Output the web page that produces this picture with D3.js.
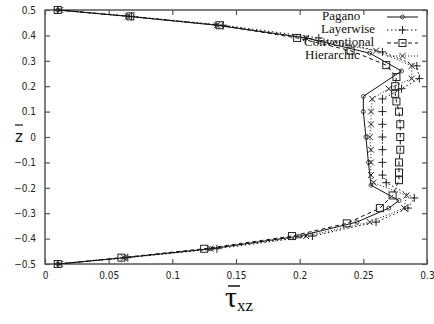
<!DOCTYPE html>
<html>
<head>
<meta charset="utf-8">
<script src="https://cdn.jsdelivr.net/npm/d3@7"></script>
<style>
  body { margin: 0; background: #fff; }
  svg { display: block; }
</style>
</head>
<body>
<svg id="chart" width="434" height="324"></svg>
<script>
// values, z through the thickness
var paganoZ   = [-0.5, -0.475, -0.44, -0.39, -0.335, -0.28, -0.25, -0.19, -0.1, 0, 0.1, 0.16, 0.26, 0.33, 0.39, 0.44, 0.475, 0.5];
var paganoTau = [0.01, 0.063, 0.13, 0.2, 0.245, 0.27, 0.278, 0.256, 0.254, 0.252, 0.25, 0.25, 0.28, 0.255, 0.205, 0.135, 0.065, 0.01];

var layerZ   = [-0.5, -0.475, -0.44, -0.39, -0.335, -0.28, -0.24, -0.18, -0.15, -0.1, -0.05, 0, 0.05, 0.1, 0.15, 0.19, 0.23, 0.28, 0.335, 0.39, 0.44, 0.475, 0.5];
var layerTau = [0.01, 0.065, 0.135, 0.21, 0.26, 0.285, 0.29, 0.268, 0.265, 0.265, 0.265, 0.265, 0.265, 0.265, 0.265, 0.28, 0.294, 0.292, 0.265, 0.215, 0.14, 0.068, 0.01];

var convZ   = [-0.5, -0.475, -0.44, -0.39, -0.34, -0.28, -0.23, -0.17, -0.14, -0.1, -0.05, 0, 0.05, 0.1, 0.14, 0.17, 0.2, 0.236, 0.283, 0.34, 0.39, 0.44, 0.475, 0.5];
var convTau = [0.01, 0.06, 0.125, 0.194, 0.237, 0.263, 0.273, 0.278, 0.278, 0.278, 0.279, 0.279, 0.279, 0.278, 0.276, 0.275, 0.275, 0.276, 0.268, 0.24, 0.198, 0.137, 0.067, 0.01];

var hierZ   = [-0.5, -0.475, -0.44, -0.39, -0.335, -0.28, -0.23, -0.18, -0.15, -0.1, -0.05, 0, 0.05, 0.1, 0.15, 0.19, 0.23, 0.28, 0.34, 0.39, 0.44, 0.475, 0.5];
var hierTau = [0.012, 0.062, 0.13, 0.205, 0.255, 0.282, 0.284, 0.258, 0.256, 0.256, 0.256, 0.255, 0.256, 0.256, 0.257, 0.27, 0.288, 0.288, 0.26, 0.205, 0.135, 0.065, 0.012];

var xTicks = [0, 0.05, 0.1, 0.15, 0.2, 0.25, 0.3];
var yTicks = [-0.5, -0.4, -0.3, -0.2, -0.1, 0, 0.1, 0.2, 0.3, 0.4, 0.5];

var seriesNames = ["Pagano", "Layerwise", "Conventional", "Hierarchic"];
var seriesDash = [null, "1.5,2.5", "4,3", "1,2"];
var seriesMark = ["circle", "plus", "square", "cross"];

var series = [
  {z: paganoZ, tau: paganoTau},
  {z: layerZ, tau: layerTau},
  {z: convZ, tau: convTau},
  {z: hierZ, tau: hierTau}
];

var svg = d3.select("#chart");
var plotLeft = 45, plotRight = 427, plotTop = 10, plotBottom = 264;

var x = d3.scaleLinear().domain([0, 0.3]).range([plotLeft, plotRight]);
var y = d3.scaleLinear().domain([-0.5, 0.5]).range([plotBottom, plotTop]);

var frameColor = "#555";
var tickFont = "'DejaVu Sans Condensed', 'DejaVu Sans', sans-serif";

// axes, ticks pointing inward
svg.append("g").attr("transform", "translate(0," + plotBottom + ")")
  .call(d3.axisBottom(x).tickValues(xTicks).tickSize(-5).tickPadding(8)
    .tickFormat(function(d){ return d === 0 ? "0" : d3.format("")(d); }));
svg.append("g").attr("transform", "translate(0," + plotTop + ")")
  .call(d3.axisTop(x).tickValues(xTicks).tickSize(-5).tickFormat(""));
svg.append("g").attr("transform", "translate(" + plotLeft + ",0)")
  .call(d3.axisLeft(y).tickValues(yTicks).tickSize(-5).tickPadding(9)
    .tickFormat(function(d){ return d === 0 ? "0" : d3.format("")(d).replace("-", "\u2212"); }));
svg.append("g").attr("transform", "translate(" + plotRight + ",0)")
  .call(d3.axisRight(y).tickValues(yTicks).tickSize(-5).tickFormat(""));

svg.selectAll(".domain").remove();
svg.selectAll(".tick line").attr("stroke", frameColor).attr("stroke-width", 1.2);
svg.selectAll(".tick text").attr("fill", "#222").style("font-family", tickFont).style("font-size", "10px");

svg.append("rect")
  .attr("x", plotLeft).attr("y", plotTop)
  .attr("width", plotRight - plotLeft).attr("height", plotBottom - plotTop)
  .attr("fill", "none").attr("stroke", frameColor).attr("stroke-width", 1.5);

// curves
var line = d3.line()
  .x(function(d){ return x(d[0]); })
  .y(function(d){ return y(d[1]); });

function drawMarker(g, kind, cx, cy) {
  if (kind === "circle") {
    g.append("circle").attr("cx", cx).attr("cy", cy).attr("r", 2)
      .attr("fill", "none").attr("stroke", "#222").attr("stroke-width", 0.8);
  } else if (kind === "square") {
    g.append("rect").attr("x", cx - 3.5).attr("y", cy - 3.5).attr("width", 7).attr("height", 7)
      .attr("fill", "none").attr("stroke", "#222").attr("stroke-width", 1);
  } else if (kind === "plus") {
    g.append("path").attr("d", "M" + (cx - 4) + "," + cy + "h8M" + cx + "," + (cy - 4) + "v8")
      .attr("stroke", "#222").attr("stroke-width", 1);
  } else {
    g.append("path").attr("d", "M" + (cx - 3) + "," + (cy - 3) + "l6,6M" + (cx - 3) + "," + (cy + 3) + "l6,-6")
      .attr("stroke", "#222").attr("stroke-width", 1);
  }
}

series.forEach(function(s, i){
  var pts = s.tau.map(function(t, k){ return [t, s.z[k]]; });
  var g = svg.append("g");
  g.append("path").datum(pts)
    .attr("d", line)
    .attr("fill", "none")
    .attr("stroke", "#111")
    .attr("stroke-width", 1)
    .attr("stroke-dasharray", seriesDash[i]);
  pts.forEach(function(p){ drawMarker(g, seriesMark[i], x(p[0]), y(p[1])); });
});

// legend (labels not aligned in the original, kept that way)
var legY = [17, 30, 43, 56];
var legTextX = [322, 321, 304, 305];
var leg = svg.append("g");
seriesNames.forEach(function(name, i){
  leg.append("text")
    .attr("x", legTextX[i]).attr("y", legY[i] + 3)
    .style("font-family", "'Liberation Serif', 'DejaVu Serif', serif")
    .style("font-size", "13px")
    .attr("fill", "#111")
    .text(name);
  leg.append("path")
    .attr("d", "M387," + legY[i] + "H418")
    .attr("stroke", "#111").attr("stroke-width", 1)
    .attr("stroke-dasharray", seriesDash[i]);
  drawMarker(leg, seriesMark[i], 402.5, legY[i]);
});

// axis titles
svg.append("text")
  .attr("x", 19).attr("y", 142)
  .attr("text-anchor", "middle")
  .style("font-family", "'DejaVu Sans', sans-serif")
  .style("font-size", "15px")
  .attr("fill", "#111")
  .text("z");
svg.append("line").attr("x1", 15).attr("x2", 23).attr("y1", 125).attr("y2", 125)
  .attr("stroke", "#111").attr("stroke-width", 1.2);

var tLab = svg.append("text")
  .attr("x", 225).attr("y", 307)
  .style("font-family", "'Liberation Serif', 'DejaVu Serif', serif")
  .attr("fill", "#111");
tLab.append("tspan").style("font-size", "30px").text("\u03c4");
tLab.append("tspan").style("font-size", "17px").attr("dy", 4).text("xz");
svg.append("line").attr("x1", 228).attr("x2", 240).attr("y1", 286).attr("y2", 286)
  .attr("stroke", "#111").attr("stroke-width", 1.5);
</script>
</body>
</html>
